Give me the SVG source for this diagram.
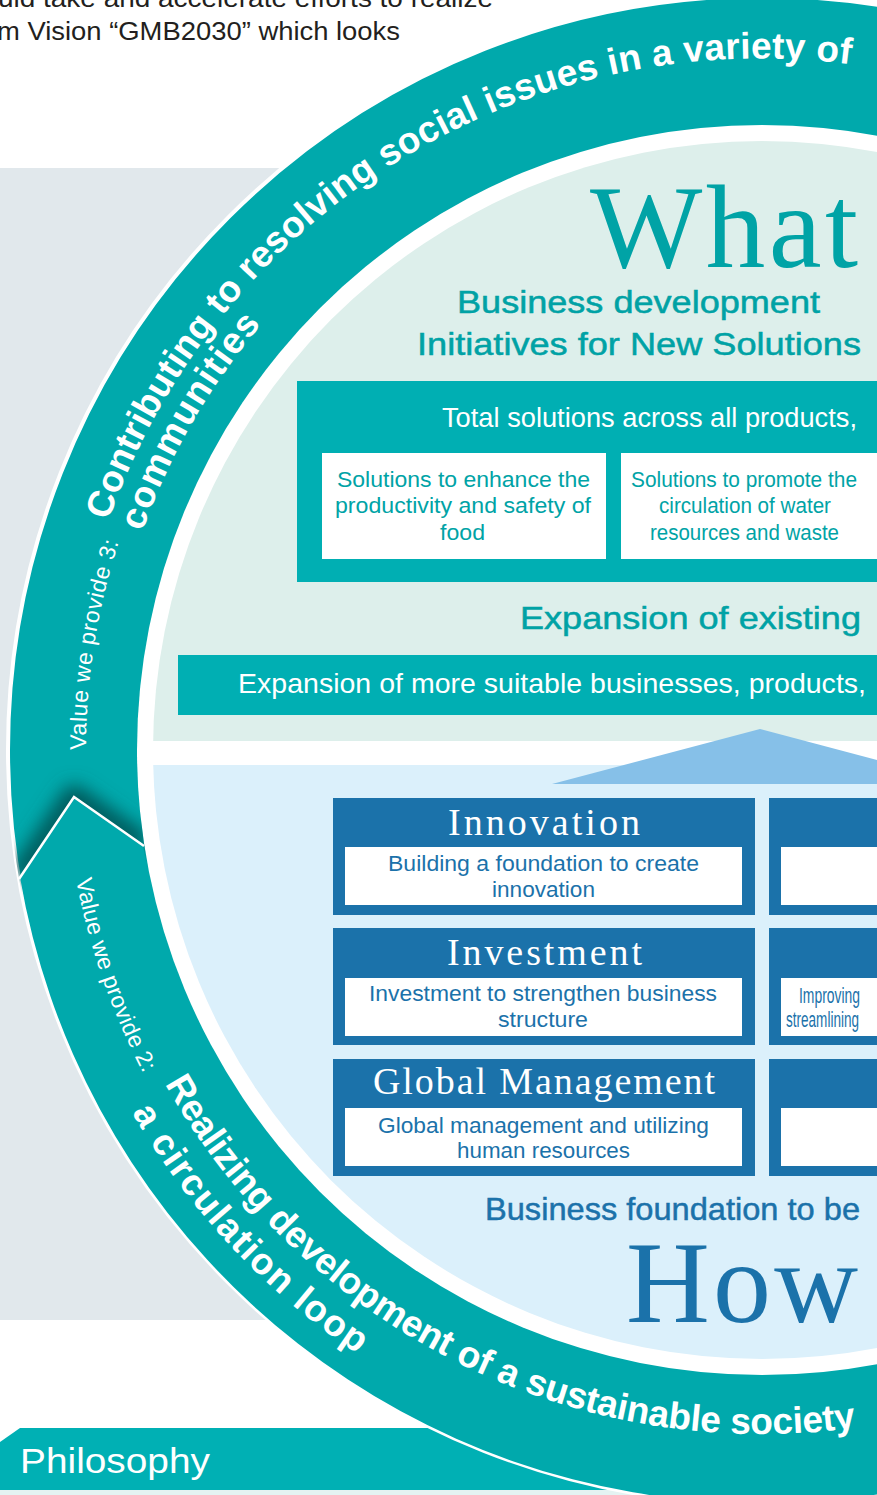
<svg xmlns="http://www.w3.org/2000/svg" width="877" height="1495" viewBox="0 0 877 1495">
<style>
.sans{font-family:'Liberation Sans',Arial,sans-serif}
.serif{font-family:'Liberation Serif','Times New Roman',serif}
.ringtxt{font-family:'Liberation Sans',Arial,sans-serif;font-weight:700;font-size:37px;fill:#fff}
.valtxt{font-family:'Liberation Sans',Arial,sans-serif;font-size:23px;fill:#fff}
.head{font-family:'Liberation Sans',Arial,sans-serif;stroke-width:0.5}
.tealhead{fill:#00a2a5;stroke:#00a2a5}
.bluehead{fill:#1b72aa;stroke:#1b72aa}
.boxtitle{font-family:'Liberation Serif','Times New Roman',serif;font-size:38px;fill:#fff}
.boxsub{font-family:'Liberation Sans',Arial,sans-serif;font-size:22px;fill:#1b72aa}
.tealsub{font-family:'Liberation Sans',Arial,sans-serif;font-size:21.5px;fill:#00a3a6}
.bluebox{fill:#1b72aa}
.whitebox{fill:#fff}
.tealfill{fill:#00afb3}
</style>
<defs>
  <clipPath id="innerDisk"><circle cx="762" cy="750" r="609"/></clipPath>
  <clipPath id="ringBand"><path clip-rule="evenodd" d="M8 750A754 754 0 1 1 1516 750A754 754 0 1 1 8 750ZM137 750A625 625 0 1 0 1387 750A625 625 0 1 0 137 750Z"/></clipPath>
  <filter id="soft" x="-50%" y="-50%" width="200%" height="200%"><feGaussianBlur stdDeviation="9"/></filter>
  <path id="arcUp1" d="M108.4 520.9A691 691 0 0 1 1020.8 109.3"/>
  <path id="arcUp2" d="M142.3 531.7A657 657 0 0 1 537.3 132.6"/>
  <path id="arcVal3" d="M86 750A676 676 0 0 1 284 272"/>
  <path id="arcVal2" d="M76.1 879.6A698 698 0 0 0 313.3 1284.7"/>
  <path id="arcLow1" d="M164.9 1083.8A684 684 0 0 0 1104 1342.4"/>
  <path id="arcLow2" d="M131.8 1112.4A727 727 0 0 0 635.8 1466"/>
</defs>

<rect width="877" height="1495" fill="#fff"/>

<!-- intro paragraph, cut by the page edges -->
<g id="intro-text" class="sans" font-size="26.5" fill="#231f20">
  <text x="-2" y="7" textLength="495" lengthAdjust="spacingAndGlyphs">uld take and accelerate efforts to realize</text>
  <text x="-3" y="39.5" textLength="403" lengthAdjust="spacingAndGlyphs">m Vision “GMB2030” which looks</text>
</g>

<!-- grey backdrop on the left -->
<rect id="backdrop" x="0" y="168" width="420" height="1152" fill="#e1e8ec"/>

<!-- Philosophy band -->
<g id="philosophy">
  <path d="M0 1442L20 1428H877V1490H0Z" fill="#00b0b4"/>
  <rect x="0" y="1490" width="877" height="5" fill="#e4f3f2"/>
  <text class="sans" x="20" y="1473" font-size="35" fill="#fff" textLength="190" lengthAdjust="spacingAndGlyphs">Philosophy</text>
</g>

<!-- outer ring: value we provide 3 (upper) and 2 (lower) -->
<g id="ring-upper">
  <circle cx="762" cy="750" r="754" fill="#00a9ac" stroke="#fff" stroke-width="4"/>
  <circle cx="762" cy="750" r="625" fill="#fff"/>
  <g clip-path="url(#ringBand)">
    <path d="M20 877L74 797L143 845" fill="none" stroke="#06585a" stroke-width="24" stroke-linejoin="round" filter="url(#soft)"/>
  </g>
</g>
<g id="ring-lower">
  <path d="M20 877A752 752 0 0 0 1468.6 1007.2L1349.3 963.8A625 625 0 0 1 143 845L74 797Z" fill="#00a9ac"/>
  <polyline points="19,879 74,797 144,846" fill="none" stroke="#fff" stroke-width="2.5"/>
</g>
<g id="ring-labels">
  <text class="ringtxt" letter-spacing="0.2"><textPath href="#arcUp1">Contributing to resolving social issues in a variety of</textPath></text>
  <text class="ringtxt" letter-spacing="1.2"><textPath href="#arcUp2">communities</textPath></text>
  <text class="valtxt" letter-spacing="0.6"><textPath href="#arcVal3">Value we provide 3:</textPath></text>
  <text class="valtxt" letter-spacing="0.3"><textPath href="#arcVal2">Value we provide 2:</textPath></text>
  <text class="ringtxt" letter-spacing="-0.2" font-size="36"><textPath href="#arcLow1">Realizing development of a sustainable society</textPath></text>
  <text class="ringtxt" letter-spacing="1.6"><textPath href="#arcLow2">a circulation loop</textPath></text>
</g>

<!-- inner panels -->
<g clip-path="url(#innerDisk)">
  <rect id="what-panel" x="0" y="0" width="877" height="741" fill="#ddefeb"/>
  <rect id="how-panel" x="0" y="765" width="877" height="730" fill="#dbf0fb"/>
</g>

<!-- upward arrow from How to What -->
<g id="connectors">
  <polygon points="552,784 760,729 877,760 877,784" fill="#86c0e8"/>
</g>

<!-- What -->
<g id="what-title">
  <text class="serif" x="590" y="267" font-size="119" fill="#00a3a6" textLength="268">What</text>
  <text class="head tealhead" x="457" y="313" font-size="31" textLength="363" lengthAdjust="spacingAndGlyphs">Business development</text>
  <text class="head tealhead" x="417" y="355" font-size="31" textLength="444" lengthAdjust="spacingAndGlyphs">Initiatives for New Solutions</text>
</g>

<g id="node-total-solutions">
  <rect class="tealfill" x="297" y="381" width="600" height="201"/>
  <text class="sans" x="442" y="427" font-size="27.5" fill="#fff" textLength="415" lengthAdjust="spacingAndGlyphs">Total solutions across all products,</text>
  <rect class="whitebox" x="322" y="453" width="284" height="106"/>
  <text class="tealsub" x="337" y="487" textLength="253" lengthAdjust="spacingAndGlyphs">Solutions to enhance the</text>
  <text class="tealsub" x="335" y="513" textLength="256" lengthAdjust="spacingAndGlyphs">productivity and safety of</text>
  <text class="tealsub" x="440" y="540" textLength="45" lengthAdjust="spacingAndGlyphs">food</text>
  <rect class="whitebox" x="621" y="453" width="270" height="106"/>
  <text class="tealsub" x="631" y="487" textLength="226" lengthAdjust="spacingAndGlyphs">Solutions to promote the</text>
  <text class="tealsub" x="659" y="513" textLength="172" lengthAdjust="spacingAndGlyphs">circulation of water</text>
  <text class="tealsub" x="650" y="540" textLength="189" lengthAdjust="spacingAndGlyphs">resources and waste</text>
</g>

<g id="node-expansion">
  <text class="head tealhead" x="520" y="629" font-size="32" textLength="341" lengthAdjust="spacingAndGlyphs">Expansion of existing</text>
  <rect class="tealfill" x="178" y="655" width="710" height="60"/>
  <text class="sans" x="238" y="693" font-size="28" fill="#fff" textLength="628" lengthAdjust="spacingAndGlyphs">Expansion of more suitable businesses, products,</text>
</g>

<!-- How: foundation blocks -->
<g id="node-innovation">
  <rect class="bluebox" x="333" y="798" width="422" height="117"/>
  <rect class="whitebox" x="345" y="847" width="397" height="58"/>
  <text class="boxtitle" x="448" y="835" textLength="192">Innovation</text>
  <text class="boxsub" x="388" y="871" textLength="311" lengthAdjust="spacingAndGlyphs">Building a foundation to create</text>
  <text class="boxsub" x="492" y="897" textLength="103" lengthAdjust="spacingAndGlyphs">innovation</text>
</g>
<g id="node-investment">
  <rect class="bluebox" x="333" y="928" width="422" height="117"/>
  <rect class="whitebox" x="345" y="978" width="397" height="58"/>
  <text class="boxtitle" x="447" y="965" textLength="195">Investment</text>
  <text class="boxsub" x="369" y="1001" textLength="348" lengthAdjust="spacingAndGlyphs">Investment to strengthen business</text>
  <text class="boxsub" x="498" y="1027" textLength="90" lengthAdjust="spacingAndGlyphs">structure</text>
</g>
<g id="node-global">
  <rect class="bluebox" x="333" y="1059" width="422" height="117"/>
  <rect class="whitebox" x="345" y="1108" width="397" height="58"/>
  <text class="boxtitle" x="373" y="1094" textLength="342">Global Management</text>
  <text class="boxsub" x="378" y="1133" textLength="331" lengthAdjust="spacingAndGlyphs">Global management and utilizing</text>
  <text class="boxsub" x="457" y="1158" textLength="173" lengthAdjust="spacingAndGlyphs">human resources</text>
</g>
<g id="node-right-1">
  <rect class="bluebox" x="769" y="798" width="120" height="117"/>
  <rect class="whitebox" x="781" y="847" width="110" height="58"/>
</g>
<g id="node-right-2">
  <rect class="bluebox" x="769" y="928" width="120" height="117"/>
  <rect class="whitebox" x="781" y="978" width="110" height="58"/>
  <text class="boxsub" x="799" y="1003" font-size="19" textLength="61" lengthAdjust="spacingAndGlyphs">Improving</text>
  <text class="boxsub" x="786" y="1027" font-size="19" textLength="73" lengthAdjust="spacingAndGlyphs">streamlining</text>
</g>
<g id="node-right-3">
  <rect class="bluebox" x="769" y="1059" width="120" height="117"/>
  <rect class="whitebox" x="781" y="1108" width="110" height="58"/>
</g>

<g id="how-title">
  <text class="head bluehead" x="485" y="1220" font-size="32" textLength="375" lengthAdjust="spacingAndGlyphs">Business foundation to be</text>
  <text class="serif" x="626" y="1322" font-size="116" fill="#1b72aa" textLength="232">How</text>
</g>
</svg>
